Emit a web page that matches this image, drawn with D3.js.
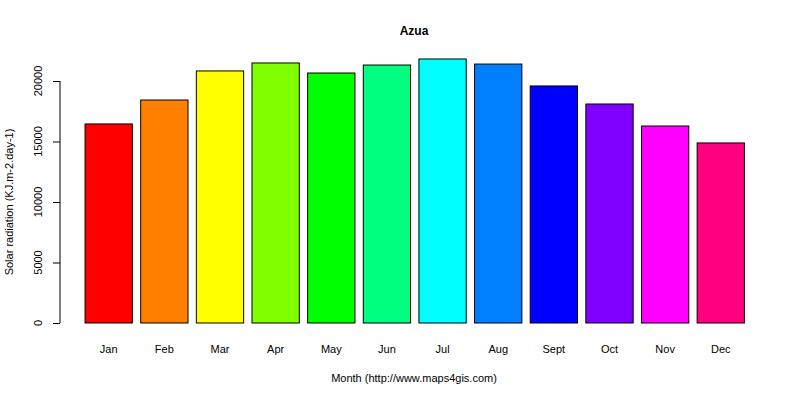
<!DOCTYPE html>
<html><head><meta charset="utf-8">
<script src="https://cdn.jsdelivr.net/npm/d3@7"></script>
<style>body{margin:0;background:#fff}</style></head>
<body><svg id="c" width="800" height="400"></svg>
<script>
const months=["Jan","Feb","Mar","Apr","May","Jun","Jul","Aug","Sept","Oct","Nov","Dec"];
const values=[16450,18430,20830,21490,20660,21320,21820,21400,19590,18100,16280,14880];
const colors=["#FF0000","#FF8000","#FFFF00","#80FF00","#00FF00","#00FF80","#00FFFF","#0080FF","#0000FF","#8000FF","#FF00FF","#FF0080"];
const yTicks=[0,5000,10000,15000,20000];
const svg=d3.select("#c");
const font="Liberation Sans, Arial, sans-serif";
const x=d3.scaleBand().domain(months).range([79.5,750]).paddingInner(0.15).paddingOuter(0.1);
const y=d3.scaleLinear().domain([0,20000]).range([323,81]);
svg.selectAll("rect").data(values).enter().append("rect")
 .attr("x",(d,i)=>x(months[i])).attr("width",x.bandwidth())
 .attr("y",d=>y(d)).attr("height",d=>y(0)-y(d))
 .attr("fill",(d,i)=>colors[i]).attr("stroke","#000").attr("stroke-width",1);
const ya=svg.append("g").attr("transform","translate(60,0)")
 .call(d3.axisLeft(y).tickValues(yTicks).tickSize(7).tickFormat(""));
ya.select(".domain").attr("d","M0,"+y(0)+"V"+y(20000));
svg.selectAll(".yl").data(yTicks).enter().append("text")
 .attr("transform",d=>`translate(42,${y(d)}) rotate(-90)`).attr("text-anchor","middle")
 .style("font-family",font).style("font-size","11px").text(d=>d);
svg.selectAll(".ml").data(months).enter().append("text")
 .attr("x",d=>x(d)+x.bandwidth()/2).attr("y",353).attr("text-anchor","middle")
 .style("font-family",font).style("font-size","11px").text(d=>d);
svg.append("text").attr("x",414).attr("y",35).attr("text-anchor","middle")
 .style("font-family",font).style("font-size","12px").style("font-weight","bold").text("Azua");
svg.append("text").attr("x",414).attr("y",382).attr("text-anchor","middle")
 .style("font-family",font).style("font-size","11px").text("Month (http://www.maps4gis.com)");
svg.append("text").attr("transform","translate(13,202) rotate(-90)").attr("text-anchor","middle")
 .style("font-family",font).style("font-size","11px").text("Solar radiation (KJ.m-2.day-1)");
</script></body></html>
